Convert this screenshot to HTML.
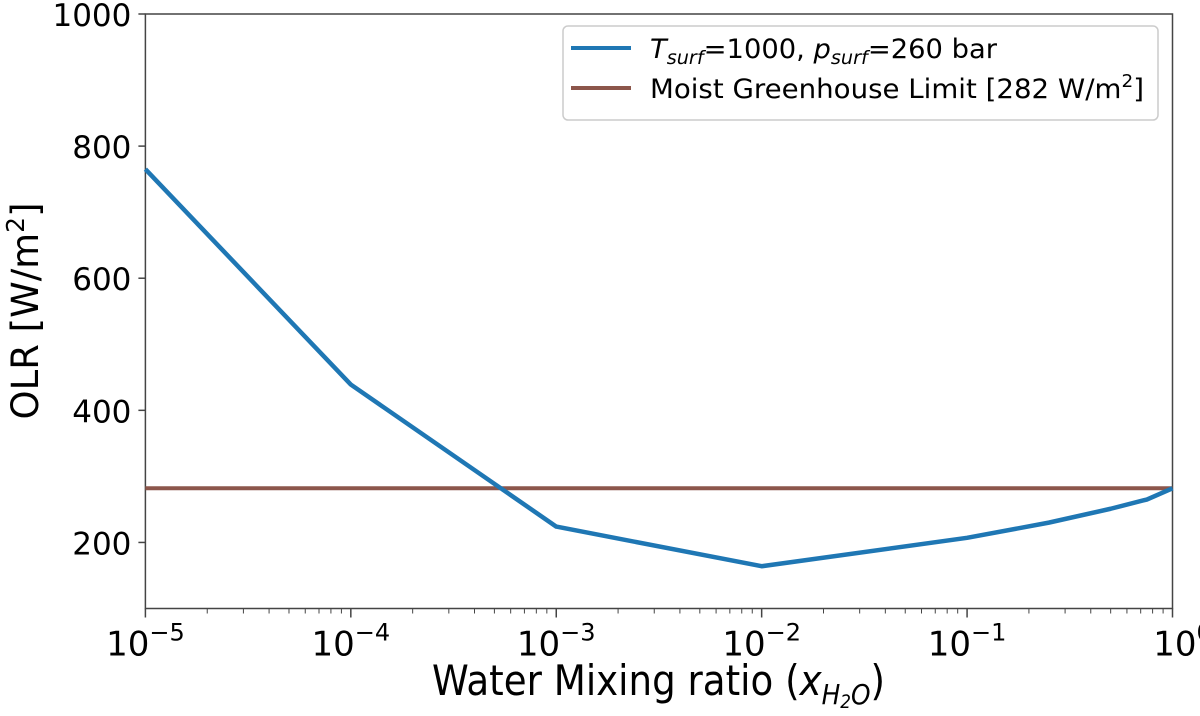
<!DOCTYPE html>
<html><head><meta charset="utf-8"><style>
body{margin:0;background:#fff}
svg text{font-family:"DejaVu Sans","Liberation Sans",sans-serif;fill:#000}
</style></head><body>
<svg id="chart" width="1200" height="711" xmlns="http://www.w3.org/2000/svg">
<g id="axes"></g>
<g id="series"></g>
<g>
  <rect x="563" y="26" width="595" height="94" rx="5" fill="#fff" stroke="#ccc" stroke-width="1.5"/>
  <line x1="571" y1="48" x2="631" y2="48" stroke="#1f77b4" stroke-width="4"/>
  <text x="650" y="58" font-size="27" textLength="347" lengthAdjust="spacingAndGlyphs"><tspan font-style="italic">T</tspan><tspan font-style="italic" font-size="19" dy="6">surf</tspan><tspan dy="-6">=1000, </tspan><tspan font-style="italic">p</tspan><tspan font-style="italic" font-size="19" dy="6">surf</tspan><tspan dy="-6">=260 bar</tspan></text>
  <line x1="571" y1="88" x2="631" y2="88" stroke="#8c564b" stroke-width="4"/>
  <text x="650" y="98" font-size="27" textLength="494" lengthAdjust="spacingAndGlyphs">Moist Greenhouse Limit [282 W/m<tspan font-size="18" dy="-11">2</tspan><tspan dy="11">]</tspan></text>
</g>
<text x="432" y="695" font-size="42" textLength="453" lengthAdjust="spacingAndGlyphs">Water Mixing ratio (<tspan font-style="italic">x</tspan><tspan font-style="italic" font-size="28" dy="9">H</tspan><tspan font-style="italic" font-size="19" dy="4">2</tspan><tspan font-style="italic" font-size="28" dy="-4">O</tspan><tspan dy="-9">)</tspan></text>
<text transform="translate(38,311) rotate(-90)" font-size="37" text-anchor="middle">OLR [W/m<tspan font-size="25" dy="-14">2</tspan><tspan dy="14">]</tspan></text>
</svg>
<script>
const xValues=[1e-5,1e-4,1e-3,1e-2,1e-1,0.25,0.5,0.75,1];
const olrValues=[765,439,224,164,207,230,251,265,282];
const limitValue=[282];
const yTicks=[200,400,600,800,1000];
const xTickExps=[-5,-4,-3,-2,-1,0];
const NS="http://www.w3.org/2000/svg";
const L=145.4,R=1172.5,T=14,B=608.5;
const xs=v=>L+(Math.log10(v)+5)*(R-L)/5;
const ys=v=>B-(v-100)*(B-T)/900;
function mk(tag,attrs,parent){const e=document.createElementNS(NS,tag);for(const k in attrs)e.setAttribute(k,attrs[k]);parent.appendChild(e);return e;}
const ax=document.getElementById('axes'),se=document.getElementById('series');
const frame=mk('rect',{x:L,y:T,width:R-L,height:B-T,fill:'none',stroke:'#444','stroke-width':1.5},ax);


yTicks.forEach(v=>{
  const t=mk('line',{x1:L-7,x2:L,y1:ys(v),y2:ys(v),stroke:'#444','stroke-width':1.5},ax);
  
  
  const l=mk('text',{x:L-14,y:ys(v)+12,'font-size':31,'text-anchor':'end'},ax);
  l.textContent=v;
  
  
});
xTickExps.forEach(e=>{
  const x=xs(Math.pow(10,e));
  const t=mk('line',{x1:x,x2:x,y1:B,y2:B+9,stroke:'#444','stroke-width':1.5},ax);
  
  
  const l=mk('text',{x:x+(e<0?0:10),y:B+47,'font-size':34,'text-anchor':'middle'},ax);
  l.innerHTML='10<tspan font-size="24" dy="-15">'+(e<0?'\u2212':'')+Math.abs(e)+'</tspan>';
  
  
  if(e<0)for(let m=2;m<10;m++){
    const mx=xs(m*Math.pow(10,e));
    const mt=mk('line',{x1:mx,x2:mx,y1:B,y2:B+5,stroke:'#444','stroke-width':1},ax);
    
    
  }
});
const lim=mk('line',{x1:L,x2:R,y1:ys(limitValue[0]),y2:ys(limitValue[0]),stroke:'#8c564b','stroke-width':4},se);


const pl=mk('polyline',{points:xValues.map((x,i)=>xs(x)+','+ys(olrValues[i])).join(' '),fill:'none',stroke:'#1f77b4','stroke-width':4.5,'stroke-linejoin':'round'},se);


</script>
</body></html>
